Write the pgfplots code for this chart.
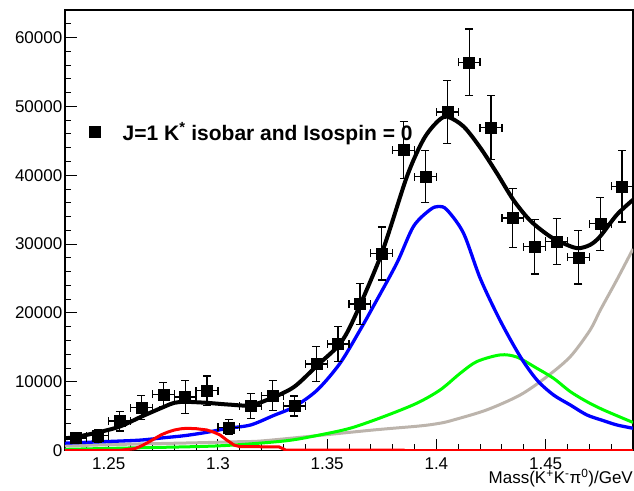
\documentclass[border=0pt]{standalone}
\usepackage{pgfplots}
\pgfplotsset{compat=1.18}
\usepackage{fontspec}
\setmainfont{Liberation Sans}
\definecolor{rootgray}{RGB}{188,180,172}
\definecolor{rootgreen}{RGB}{0,255,0}
\definecolor{rootblue}{RGB}{0,0,255}
\definecolor{rootred}{RGB}{255,0,0}
\begin{document}
\begin{tikzpicture}
\useasboundingbox (-65pt,-39.3pt) rectangle (569pt,450.7pt);
\begin{axis}[
  at={(0pt,0pt)}, anchor=south west,
  scale only axis, width=568pt, height=440.7pt,
  xmin=1.23, xmax=1.49, ymin=0, ymax=64000,
  axis line style={line width=1.2pt},
  tick pos=left, tick align=inside,
  major tick length=12pt, minor tick length=6.5pt,
  every tick/.style={black, line width=1pt},
  xtick={1.25,1.3,1.35,1.4,1.45},
  xticklabels={1.25,1.3,1.35,1.4,1.45},
  minor xtick={1.24,1.26,1.27,1.28,1.29,1.31,1.32,1.33,1.34,1.36,1.37,1.38,1.39,1.41,1.42,1.43,1.44,1.46,1.47,1.48},
  ytick={0,10000,20000,30000,40000,50000,60000},
  yticklabels={0,10000,20000,30000,40000,50000,60000},
  minor ytick={2000,4000,6000,8000,12000,14000,16000,18000,22000,24000,26000,28000,32000,34000,36000,38000,42000,44000,46000,48000,52000,54000,56000,58000,62000},
  /pgf/number format/assume math mode=true,
  tick label style={font=\fontsize{17}{20}\selectfont},
  xticklabel style={anchor=base, inner sep=0pt, yshift=-18.6pt},
  yticklabel style={anchor=east, inner sep=0pt, xshift=-2.5pt},
  xlabel={Mass(K\textsuperscript{+}K\textsuperscript{-}π\textsuperscript{0})/GeV},
  xlabel style={at={(rel axis cs:1,0)}, anchor=base east, inner sep=0pt, yshift=-33pt, font=\fontsize{17}{20}\selectfont},
  legend style={draw=none, fill=none, at={(0.0414,0.723)}, anchor=west, inner sep=0pt, column sep=21pt, font=\fontsize{21}{24}\selectfont\bfseries},
  legend cell align=left,
  clip=true,
]
% background component (gray)
\addplot[rootgray, line width=3pt, smooth, tension=0.5, forget plot] coordinates {
(1.23,700) (1.26,950) (1.29,1150) (1.3101,1310) (1.3193,1400) (1.3407,2040) (1.3712,3010) (1.3926,3600) (1.4018,4000) (1.4078,4460) (1.423,5920) (1.4384,8100) (1.4506,10760) (1.4613,13660) (1.4704,17540) (1.475,20400) (1.4826,24810) (1.49,29300)};
% green component
\addplot[rootgreen, line width=3pt, smooth, tension=0.5, forget plot] coordinates {
(1.23,200) (1.26,400) (1.30,700) (1.33,1400) (1.3452,2200) (1.3605,3260) (1.3758,4940) (1.391,6890) (1.4017,8820) (1.4109,11240) (1.4185,12940) (1.4292,13910) (1.4368,13600) (1.446,11970) (1.4536,10520) (1.4613,8580) (1.4689,7120) (1.4765,5920) (1.49,4100)};
% blue component
\addplot[rootblue, line width=3.3pt, smooth, tension=0.5, forget plot] coordinates {
(1.23,1100) (1.255,1400) (1.265,1550) (1.2755,1890) (1.2846,2180) (1.2949,2670) (1.3046,3250) (1.315,3740) (1.3254,5100) (1.335,6400) (1.3455,8820) (1.3559,12700) (1.3651,17540) (1.3712,21000) (1.3819,27240) (1.3895,32560) (1.3971,34990) (1.401,35470) (1.4048,34990) (1.4124,31600) (1.4201,25000) (1.4292,18900) (1.4384,13660) (1.446,10280) (1.4536,8100) (1.4613,6640) (1.4689,5190) (1.4765,4360) (1.4826,3740) (1.49,3260)};
% red component
\addplot[rootred, line width=3pt, forget plot] coordinates {
(1.23,0) (1.255,50) (1.262,300) (1.265,700) (1.268,1200) (1.271,1750) (1.274,2300) (1.277,2700) (1.28,3000) (1.283,3180) (1.2857,3250) (1.29,3200) (1.2949,3010) (1.298,2700) (1.301,2280) (1.304,1550) (1.3075,800) (1.31,600) (1.328,550) (1.331,100) (1.385,100) (1.3855,0) (1.49,0)};
% total fit (black)
\addplot[black, line width=4pt, smooth, tension=0.5, forget plot] coordinates {
(1.23,1800) (1.235,2000) (1.245,2650) (1.255,3500) (1.265,4950) (1.2755,6400) (1.28,6950) (1.285,7100) (1.295,6950) (1.305,6700) (1.315,6600) (1.325,7700) (1.335,9300) (1.3455,12400) (1.3555,15400) (1.362,19000) (1.375,28700) (1.3865,39800) (1.3941,45200) (1.4005,47800) (1.405,48500) (1.4124,47100) (1.4201,44000) (1.4277,40300) (1.4353,36400) (1.443,33400) (1.4521,31100) (1.4597,29900) (1.465,29400) (1.4704,29900) (1.4749,31100) (1.4826,34260) (1.49,36440)};
% data
\addplot[black, only marks, mark=square*, mark size=5.5pt, mark options={draw=none, fill=black},
  error bars/.cd, x dir=both, x explicit, y dir=both, y explicit,
  error bar style={line width=1.2pt, black},
  error mark options={rotate=90, line width=1.2pt, mark size=4pt, black}]
coordinates {
(1.235,1850) +- (0.005,800)
(1.245,2150) +- (0.005,900)
(1.255,4300) +- (0.005,1450)
(1.265,6250) +- (0.005,1750)
(1.275,8200) +- (0.005,1750)
(1.285,7800) +- (0.005,2350)
(1.295,8700) +- (0.005,2150)
(1.305,3400) +- (0.005,1100)
(1.315,6500) +- (0.005,1800)
(1.325,8000) +- (0.005,2200)
(1.335,6500) +- (0.005,1450)
(1.345,12600) +- (0.005,2500)
(1.355,15500) +- (0.005,2550)
(1.365,21300) +- (0.005,3000)
(1.375,28650) +- (0.005,3850)
(1.385,43650) +- (0.005,4150)
(1.395,39800) +- (0.005,3800)
(1.405,49200) +- (0.005,4600)
(1.415,56400) +- (0.005,4850)
(1.425,46900) +- (0.005,4650)
(1.435,33800) +- (0.005,4250)
(1.445,29600) +- (0.005,3950)
(1.455,30400) +- (0.005,3350)
(1.465,28100) +- (0.005,3900)
(1.475,32950) +- (0.005,3850)
(1.485,38400) +- (0.005,5200)
};
\addlegendentry{J=1 K\textsuperscript{*} isobar and Isospin = 0}
\end{axis}
\end{tikzpicture}
\end{document}
